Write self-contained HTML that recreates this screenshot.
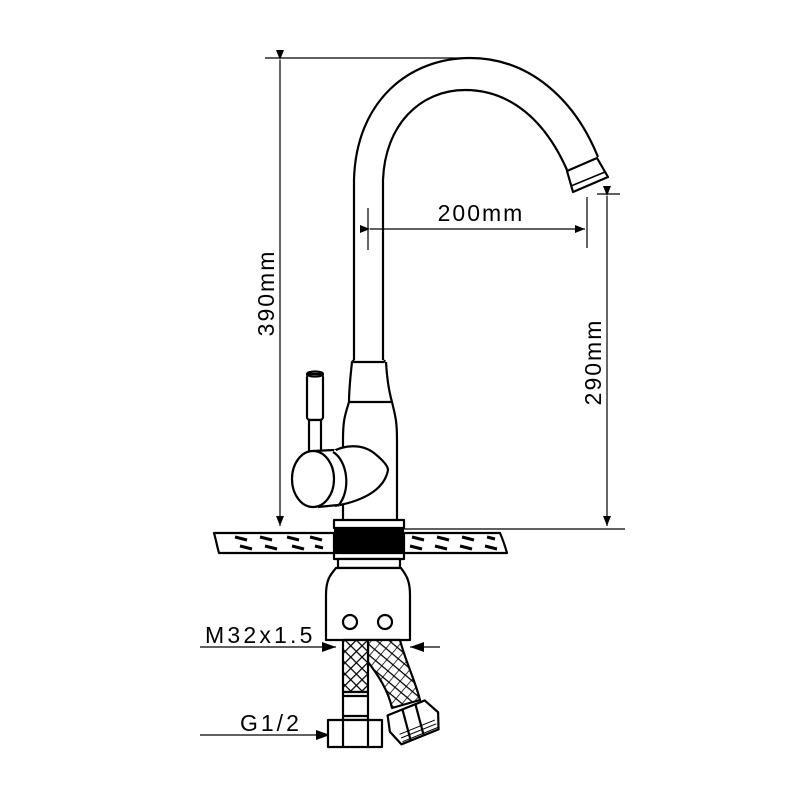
<!DOCTYPE html>
<html><head><style>html,body{margin:0;padding:0;background:#fff}svg{display:block}</style></head><body>
<svg width="800" height="800" viewBox="0 0 800 800" xmlns="http://www.w3.org/2000/svg">
<defs>
<marker id="a" markerWidth="10" markerHeight="8" refX="10" refY="4" orient="auto" markerUnits="userSpaceOnUse"><path d="M0,0 L10,4 L0,8 Z" fill="#000"/></marker>
<marker id="b" markerWidth="14" markerHeight="10" refX="14" refY="5" orient="auto" markerUnits="userSpaceOnUse"><path d="M0,0 L14,5 L0,10 Z" fill="#000"/></marker>
<pattern id="x" width="8" height="8" patternUnits="userSpaceOnUse" patternTransform="rotate(45)"><rect width="8" height="8" fill="#fff"/><path d="M0,0V8M0,0H8" stroke="#000" stroke-width="2.5"/></pattern>
<pattern id="y" width="8" height="8" patternUnits="userSpaceOnUse" patternTransform="rotate(40)"><rect width="8" height="8" fill="#fff"/><path d="M0,0H8" stroke="#000" stroke-width="2.5"/><path d="M0,0V8" stroke="#000" stroke-width="1.5"/></pattern>
</defs>
<g fill="none" stroke="#000" stroke-width="1.2">
<line x1="265" y1="58" x2="470" y2="58"/>
<line x1="280" y1="60" x2="280" y2="526" marker-start="url(#a)" marker-end="url(#a)"/>
<line x1="597" y1="194" x2="620" y2="194"/>
<line x1="404" y1="529" x2="625" y2="529"/>
<line x1="607" y1="196" x2="607" y2="526" marker-start="url(#a)" marker-end="url(#a)"/>
<line x1="368" y1="208" x2="368" y2="250"/>
<line x1="587" y1="197" x2="587" y2="248"/>
<line x1="370" y1="229" x2="585" y2="229" marker-start="url(#a)" marker-end="url(#a)"/>
<line x1="200" y1="647" x2="336" y2="647" marker-end="url(#b)"/>
<line x1="440" y1="647" x2="410" y2="647" marker-end="url(#b)"/>
<line x1="200" y1="735" x2="330" y2="735" marker-end="url(#b)"/>
</g>
<g fill="none" stroke="#000" stroke-width="2.2" stroke-linejoin="round">
<path d="M354,360 L354,180 C356,100 410,58 470,58 C530,58 575,100 598,157"/>
<path d="M383,360 L383,180 C385,125 420,90 465,90 C510,90 545,120 567,170" />
<path d="M567,171 L597,158 L608,177 L573,192 Z" fill="#fff"/>
<path d="M571,186 L605,172" stroke-width="1.5"/>
<path d="M354,360 L352,362 L384,362 L385,360"/>
<path d="M352,362 C350,380 349,395 349,402 C345,415 343,420 343,440 L343,520"/>
<path d="M386,362 C387,380 390,395 392,402 C395,415 397,420 397,440 L397,520"/>
<line x1="349" y1="402" x2="392" y2="402"/>
<rect x="334" y="520" width="70" height="8" fill="#fff"/>
<rect x="307" y="374" width="16" height="46" rx="3" fill="#fff"/>
<ellipse cx="315" cy="374" rx="8" ry="2.5"/>
<rect x="309" y="420" width="12" height="36" fill="#fff"/>
<path d="M330,453 C345,444 362,444 374,453 C384,461 388,466 388,470 C385,487 368,500 335,506" fill="#fff"/>
<path d="M315,452 L336,450 L340,506 L318,508 Z" fill="#fff" stroke="none"/>
<path d="M333,452 C347,460 352,490 338,506" fill="#fff"/>
<line x1="313" y1="451" x2="334" y2="450"/>
<line x1="318" y1="507" x2="338" y2="505"/>
<ellipse cx="313" cy="479" rx="21" ry="28" fill="#fff"/>
<path d="M214,533 L334,533 L334,553 L219,553 C217,546 216,540 214,533 Z" fill="#fff"/>
<path d="M404,533 L500,533 C503,540 505,546 507,553 L404,553 Z" fill="#fff"/>
</g>
<g stroke="#000" stroke-width="3">
<path d="M235,537l12,3M260,537l12,3M287,537l12,3M310,537l12,3M240,546l12,3M265,546l12,3M292,546l12,3M315,546l8,2"/>
<path d="M412,537l12,3M437,537l12,3M462,537l12,3M487,537l8,2M410,546l12,3M435,546l12,3M460,546l12,3M485,546l12,3"/>
</g>
<rect x="334" y="529" width="70" height="24" fill="#000"/>
<g fill="none" stroke="#000" stroke-width="2.2" stroke-linejoin="round">
<rect x="334" y="553" width="70" height="6" fill="#fff"/>
<rect x="338" y="559" width="62" height="9" fill="#fff"/>
<path d="M336,568 C330,575 326,580 326,595 L326,640 L410,640 L410,595 C410,580 406,575 401,568 Z" fill="#fff"/>
<circle cx="350" cy="622" r="7"/>
<circle cx="385" cy="622" r="7"/>
<path d="M368,640 L400,640 C405,660 415,680 420,700 L392,708 C388,690 378,675 368,662 Z" fill="url(#y)"/>
<rect x="343" y="640" width="25" height="52" fill="url(#x)"/>
<rect x="343" y="692" width="25" height="28" fill="#fff"/>
<line x1="343" y1="696" x2="368" y2="696"/>
<line x1="343" y1="716" x2="368" y2="716"/>
<rect x="328" y="720" width="54" height="27" fill="#fff"/>
<line x1="343" y1="720" x2="343" y2="747"/>
<line x1="368" y1="720" x2="368" y2="747"/>
<g transform="translate(414,722) rotate(-22)">
<path d="M-22,-16 L18,-16 L26,0 L20,16 L-20,16 L-26,0 Z" fill="#fff"/>
<line x1="-6" y1="-16" x2="-10" y2="16"/>
<line x1="8" y1="-16" x2="4" y2="16"/>
<path d="M-18,6 L20,6 M-18,10 L20,10 M-18,14 L20,14" stroke-width="1"/>
</g>
</g>
<g font-family="Liberation Sans, sans-serif" font-size="23" fill="#000" letter-spacing="2">
<text x="481" y="221" text-anchor="middle">200mm</text>
<text transform="translate(274,293) rotate(-90)" text-anchor="middle">390mm</text>
<text transform="translate(601,362) rotate(-90)" text-anchor="middle">290mm</text>
<text x="205" y="643" letter-spacing="3.2">M32x1.5</text>
<text x="240" y="731" letter-spacing="3">G1/2</text>
</g>
</svg>
</body></html>
